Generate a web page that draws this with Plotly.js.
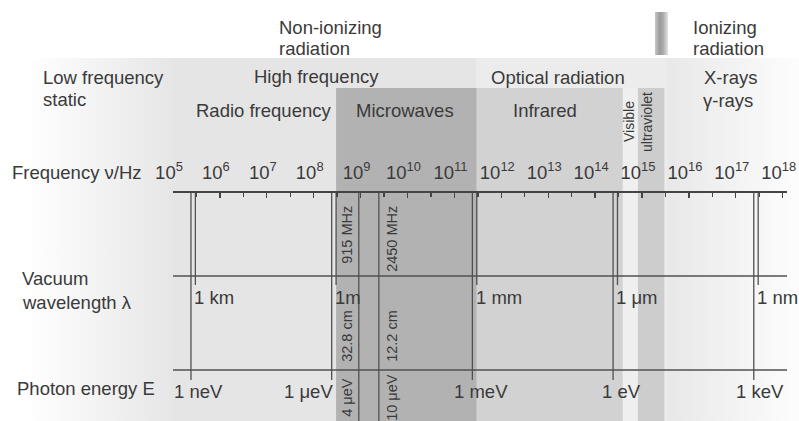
<!DOCTYPE html>
<html><head><meta charset="utf-8">
<script src="https://cdn.plot.ly/plotly-3.0.1.min.js"></script>
<style>html,body{margin:0;padding:0;background:#fff}#chart{width:799px;height:421px}</style>
</head><body><div id="chart"></div>
<script>
// ---------------- data ----------------
const freqExponents = [5,6,7,8,9,10,11,12,13,14,15,16,17,18];
const freqTickText = freqExponents.map(e => '10<sup>' + e + '</sup>');
const freqMinorHz = freqExponents.slice(0, -1).map(e => Math.pow(10, e + 0.5));

const groupNames   = ['High frequency', 'Optical radiation'];
const groupStartHz = [1e5, 3e11];
const groupEndHz   = [3e11, 3.4e15];

const subNames   = ['Radio frequency', 'Microwaves', 'Infrared', 'Visible', 'ultraviolet'];
const subStartHz = [1e5, 3e8, 3e11, 3.9e14, 8.2e14];
const subEndHz   = [3e8, 3e11, 3.9e14, 8.2e14, 3e15];

const wavelengthLabels = ['1 km', '1m', '1 mm', '1 μm', '1 nm'];
const wavelengthHz     = [3e5, 3e8, 3e11, 3e14, 3e17];
const energyLabels     = ['1 neV', '1 μeV', '1 meV', '1 eV', '1 keV'];
const energyHz         = [2.418e5, 2.418e8, 2.418e11, 2.418e14, 2.418e17];

const ismLabels     = ['915 MHz', '2450 MHz'];
const ismHz         = [915e6, 2450e6];
const ismWavelength = ['32.8 cm', '12.2 cm'];
const ismEnergy     = ['4 μeV', '10 μeV'];

// ---------------- layout constants ----------------
const W = 799, H = 421, PX0 = 173, DEC = 46.9, AX_END = 787;
const logL = 5 - PX0 / DEC, logR = 5 + (W - PX0) / DEC, logEnd = 5 + (AX_END - PX0) / DEC;
const hzPx = p => Math.pow(10, 5 + (p - PX0) / DEC);
const Y_AXIS = 191, Y_WAVE = 276, Y_ENERGY = 370, Y_GROUP = 58, Y_SUB = 88, Y_BOT = H;
const FONT = 'Liberation Sans, Arial, sans-serif';
const TXT = '#3a3a3a', LINE = '#505050';

const groupColors = ['#e5e5e5', '#ececec'];
const subColors   = ['#e5e5e5', '#b2b2b2', '#d2d2d2', '#efefef', '#cdcdcd'];
const energyShift = [8, -23, 9, 8, 6];
const ismShift    = [-12, 13];

function rect(x0, x1, y0, y1, color, grad) {
  const t = {type: 'scatter', mode: 'lines', x: [x0, x1, x1, x0, x0], y: [y0, y0, y1, y1, y0],
    fill: 'toself', fillcolor: color, line: {width: 0}, hoverinfo: 'skip', showlegend: false};
  if (grad) t.fillgradient = {type: 'horizontal', colorscale: grad};
  return t;
}
function vlines(xs, y0, y1) {
  return {type: 'scatter', mode: 'lines', x: xs.flatMap(f => [f, f, null]),
    y: xs.flatMap(() => [y0, y1, null]), line: {color: LINE, width: 1.3},
    hoverinfo: 'skip', showlegend: false};
}

const traces = [];
// outer gradient regions
traces.push(rect(Math.pow(10, logL), 1e5, Y_GROUP, Y_BOT, '#eeeeee',
  [[0, '#ffffff'], [0.15, '#ffffff'], [1, '#e6e6e6']]));
traces.push(rect(groupEndHz[1], Math.pow(10, logR), Y_GROUP, Y_BOT, '#f2f2f2',
  [[0, '#e8e8e8'], [1, '#fdfdfd']]));
groupNames.forEach((n, i) => traces.push(rect(groupStartHz[i], groupEndHz[i], Y_GROUP, Y_BOT, groupColors[i])));
subNames.forEach((n, i) => traces.push(rect(subStartHz[i], subEndHz[i], Y_SUB, Y_BOT, subColors[i])));
// ionizing marker bar
traces.push(rect(hzPx(655), hzPx(668), 12, 55, '#aaaaaa',
  [[0, '#c6c6c6'], [0.35, '#9c9c9c'], [0.6, '#a8a8a8'], [1, '#e4e4e4']]));
// row lines
traces.push({type: 'scatter', mode: 'lines', x: [1e5, Math.pow(10, logEnd), null, 1e5, Math.pow(10, logEnd)],
  y: [Y_WAVE, Y_WAVE, null, Y_ENERGY, Y_ENERGY], line: {color: LINE, width: 1.3}, hoverinfo: 'skip', showlegend: false});
traces.push(vlines(wavelengthHz, Y_AXIS, Y_WAVE + 9));
traces.push(vlines(energyHz, Y_AXIS, Y_ENERGY + 10));
traces.push(vlines(ismHz, Y_AXIS, Y_BOT));
// anchor trace for the frequency axis
traces.push({type: 'scatter', mode: 'markers', x: [1e5], y: [-100], xaxis: 'x2', yaxis: 'y',
  marker: {opacity: 0}, hoverinfo: 'skip', showlegend: false});

const ann = [];
function A(text, xpx, ypx, o) {
  o = o || {};
  ann.push(Object.assign({text: text, xref: 'paper', yref: 'y', x: xpx / W, y: ypx,
    xanchor: 'center', yanchor: 'middle', showarrow: false, borderpad: 0,
    font: {family: FONT, size: 18.5, color: TXT}}, o));
}
function L(text, xpx, ypx, o) { A(text, xpx - 1, ypx, Object.assign({xanchor: 'left'}, o || {})); }

L('Non-ionizing', 279, 27); L('radiation', 279, 48);
L('Ionizing', 693, 27); L('radiation', 693, 48);
L('Low frequency', 43, 77); L('static', 43, 99);
A(groupNames[0], 316, 76); A(groupNames[1], 558, 77);
A('X-rays', 730, 77); A('γ-rays', 728, 100);
A(subNames[0], 263, 110); A(subNames[1], 405, 110); A(subNames[2], 545, 110);
A(subNames[3], 629, 122, {textangle: -90, font: {family: FONT, size: 14, color: TXT}});
A(subNames[4], 647, 122, {textangle: -90, font: {family: FONT, size: 14, color: TXT}});
L('Frequency ν/Hz', 12, 172); L('Vacuum', 22, 278); L('wavelength λ', 22, 302); L('Photon energy E', 17, 388);

wavelengthLabels.forEach((t, i) => ann.push({text: t, xref: 'x', yref: 'y', x: Math.log10(wavelengthHz[i]), y: 297,
  xanchor: 'left', yanchor: 'middle', xshift: -2, showarrow: false, borderpad: 0, font: {family: FONT, size: 18.5, color: TXT}}));
energyLabels.forEach((t, i) => ann.push({text: t, xref: 'x', yref: 'y', x: Math.log10(energyHz[i]), y: 391,
  xanchor: 'center', yanchor: 'middle', xshift: energyShift[i], showarrow: false, borderpad: 0, font: {family: FONT, size: 18.5, color: TXT}}));
const small = {family: FONT, size: 14.5, color: TXT};
ismLabels.forEach((t, i) => {
  ann.push({text: t, xref: 'x', yref: 'y', x: Math.log10(ismHz[i]), y: 205, xanchor: 'center', yanchor: 'top',
    xshift: ismShift[i], textangle: -90, showarrow: false, borderpad: 0, font: small});
  ann.push({text: ismWavelength[i], xref: 'x', yref: 'y', x: Math.log10(ismHz[i]), y: 336, xanchor: 'center', yanchor: 'middle',
    xshift: ismShift[i], textangle: -90, showarrow: false, borderpad: 0, font: small});
  ann.push({text: ismEnergy[i], xref: 'x', yref: 'y', x: Math.log10(ismHz[i]), y: 397, xanchor: 'center', yanchor: 'middle',
    xshift: ismShift[i], textangle: -90, showarrow: false, borderpad: 0, font: small});
});

const layout = {
  width: W, height: H, margin: {l: 0, r: 0, t: 0, b: 0},
  paper_bgcolor: '#ffffff', plot_bgcolor: 'rgba(0,0,0,0)', showlegend: false,
  xaxis: {type: 'log', range: [logL, logR], visible: false, fixedrange: true},
  yaxis: {range: [H, 0], visible: false, fixedrange: true},
  xaxis2: {type: 'log', domain: [PX0 / W, AX_END / W], range: [5, logEnd], anchor: 'free',
    position: 1 - Y_AXIS / H, side: 'top', showline: true, linecolor: '#444', linewidth: 1.6,
    ticks: 'inside', ticklen: 5, tickwidth: 1.3, tickcolor: '#444', showgrid: false, zeroline: false,
    tickvals: freqExponents.map(e => Math.pow(10, e)), ticktext: freqTickText,
    tickfont: {family: FONT, size: 18.5, color: TXT}, ticklabeloverflow: 'allow', ticklabelstandoff: 5,
    ticklabelshift: -4,
    minor: {tickvals: freqMinorHz, ticks: 'inside', ticklen: 4, tickcolor: '#444', showgrid: false},
    fixedrange: true},
  annotations: ann
};
Plotly.newPlot('chart', traces, layout, {staticPlot: true, displayModeBar: false});
</script></body></html>
